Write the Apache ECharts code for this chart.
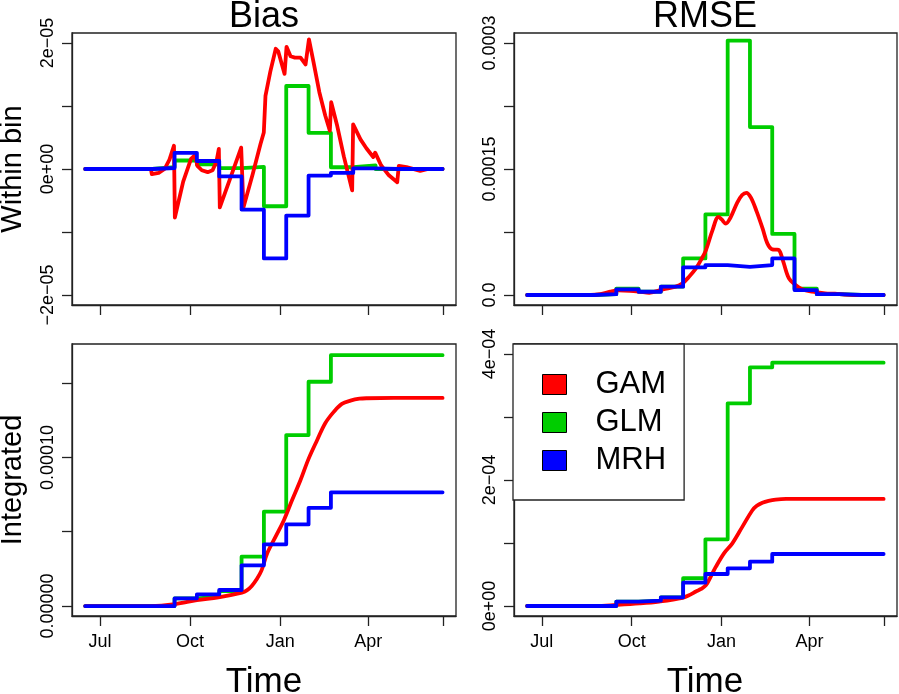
<!DOCTYPE html>
<html>
<head>
<meta charset="utf-8">
<script src="https://cdn.jsdelivr.net/npm/echarts@6/dist/echarts.min.js"></script>
<style>
html,body{margin:0;padding:0;background:#fff;}
#chart{width:899px;height:694px;}
</style>
</head>
<body>
<div id="chart"></div>
<script>
// ---------- DATA ----------
// x in days since 1 July; 16 equal-width bins
const binEdges = [-15, 7.8, 30.6, 53.4, 76.2, 99, 121.8, 144.6, 167.4, 190.2, 213, 235.8, 258.6, 281.4, 304.2, 327, 349.8];
const monthTicks = [0, 92, 184, 274, 350];
const monthLabelVals = [0, 92, 184, 274];
const monthLabels = ['Jul', 'Oct', 'Jan', 'Apr'];

// Bias, within bin
const glmBias = [0, 0, 0, 3e-7, 1.35e-6, 7.2e-7, 1.5e-7, 3.4e-7, -5.92e-6, 1.318e-5, 5.75e-6, 2.8e-7, 5.7e-7, 0, 0, 0];
const mrhBias = [0, 0, 0, 1.6e-7, 2.57e-6, 1.27e-6, -1.18e-6, -6.45e-6, -1.42e-5, -7.4e-6, -1.05e-6, -6.3e-7, 1e-7, 0, 0, 0];
const gamBias = [[-15,0],[52,0],[53,-8e-7],[60,-6e-7],[66,0],[71,1.5e-6],[75.6,3.7e-6],[76.5,-7.7e-6],[85,-2e-6],[93,1.6e-6],[97,2.2e-6],[99.5,5e-7],[104,-2e-7],[110,-5e-7],[115,-2e-7],[119,1.2e-6],[121.4,3.2e-6],[122.4,-6.1e-6],[133,-1.5e-6],[144.2,3.4e-6],[146.5,-6.1e-6],[156,-8e-7],[164,4e-6],[167.3,5.8e-6],[169,1.16e-5],[174,1.55e-5],[179.5,1.91e-5],[182,1.87e-5],[188.5,1.51e-5],[190.5,1.94e-5],[194.6,1.79e-5],[199,1.77e-5],[204.8,1.77e-5],[209.9,1.66e-5],[213.4,2.06e-5],[218,1.7e-5],[224,1.22e-5],[230,8.5e-6],[234.7,6.1e-6],[236.1,1.06e-5],[242,7e-6],[249,2e-6],[257.5,-3.4e-6],[258.5,7.1e-6],[266,4.7e-6],[272,3.3e-6],[279,1.9e-6],[281,2.6e-6],[287,6e-7],[295,-1e-6],[303.5,-2.1e-6],[305.1,5e-7],[313,3e-7],[327,-3e-7],[335,0],[349.8,0]];

// RMSE, within bin
const glmRmse = [0, 0, 0, 1e-6, 7.5e-6, 4e-6, 1e-5, 4.36e-5, 9.6e-5, 3.03e-4, 2.0e-4, 7.27e-5, 7.5e-6, 1e-6, 0, 0];
const mrhRmse = [0, 0, 0, 1e-6, 6.8e-6, 3.9e-6, 9.9e-6, 3.3e-5, 3.57e-5, 3.35e-5, 3.57e-5, 4.36e-5, 5.9e-6, 1e-6, 0, 0];
const gamRmse = [[-15,0],[50,0],[60,1e-6],[70,4e-6],[78,5.5e-6],[90,5e-6],[100,4e-6],[110,2.7e-6],[124,6.8e-6],[137,1e-5],[144,1.4e-5],[150.9,2.2e-5],[157.7,3.17e-5],[163,4.2e-5],[168,5.35e-5],[174.7,7.73e-5],[180.8,9.31e-5],[184,9e-5],[188.3,8.5e-5],[193,9.2e-5],[200,1.1e-4],[205,1.19e-4],[209.3,1.217e-4],[214,1.16e-4],[220,9.9e-5],[226,7.9e-5],[230.8,6.15e-5],[235.9,5.43e-5],[240,5.4e-5],[242.7,5.35e-5],[247,4e-5],[252.9,1.98e-5],[259.7,1.19e-5],[266,7e-6],[276.7,3.9e-6],[290,2e-6],[300,1.5e-6],[310,5e-7],[320,0],[349.8,0]];

// Bias, integrated
const glmIntBias = [0, 0, 0, 0, 5.1e-6, 6.3e-6, 1.0e-5, 3.32e-5, 6.35e-5, 1.15e-4, 1.509e-4, 1.688e-4, 1.688e-4, 1.688e-4, 1.688e-4, 1.688e-4];
const mrhIntBias = [0, 0, 0, 0, 5.16e-6, 7.86e-6, 1.078e-5, 2.74e-5, 4.15e-5, 5.49e-5, 6.61e-5, 7.65e-5, 7.65e-5, 7.65e-5, 7.65e-5, 7.65e-5];
const gamIntBias = [[-15,0],[52,0],[77,1.35e-6],[99,4e-6],[121,5.85e-6],[145,9e-6],[150,1.05e-5],[155,1.35e-5],[160,1.8e-5],[165,2.4e-5],[170.8,3.55e-5],[180,4.75e-5],[187.9,5.79e-5],[196,7.1e-5],[204.8,8.48e-5],[213,9.9e-5],[221.8,1.117e-4],[230,1.23e-4],[238.9,1.308e-4],[247,1.36e-4],[255.8,1.382e-4],[265,1.395e-4],[272.9,1.398e-4],[300,1.4e-4],[349.8,1.4e-4]];

// RMSE, integrated
const glmIntRmse = [0, 0, 0, 0, 6.8e-6, 8.4e-6, 1.38e-5, 4.4e-5, 1.058e-4, 3.217e-4, 3.788e-4, 3.862e-4, 3.862e-4, 3.862e-4, 3.862e-4, 3.862e-4];
const mrhIntRmse = [0, 0, 0, 0, 6.8e-6, 8.4e-6, 1.38e-5, 3.7e-5, 5.08e-5, 5.98e-5, 7.03e-5, 8.25e-5, 8.25e-5, 8.25e-5, 8.25e-5, 8.25e-5];
const gamIntRmse = [[-15,0],[55,0],[76,1.6e-6],[100,4e-6],[120,7e-6],[144,1.3e-5],[152,1.8e-5],[157.7,2.3e-5],[163,2.7e-5],[168,3.3e-5],[173,4.7e-5],[178,6.2e-5],[186.6,8.4e-5],[195,9.95e-5],[205.3,1.26e-4],[215.5,1.52e-4],[220,1.59e-4],[225.7,1.64e-4],[232,1.67e-4],[239.3,1.69e-4],[250,1.7e-4],[263,1.7e-4],[349.8,1.7e-4]];

// y tick marks and labels
const biasTicks = [-2e-5, -1e-5, 0, 1e-5, 2e-5];
const biasLabelVals = [-2e-5, 0, 2e-5];
const biasLabels = ['\u22122e\u221205', '0e+00', '2e\u221205'];
const rmseTicks = [0, 7.5e-5, 1.5e-4, 2.25e-4, 3e-4];
const rmseLabelVals = [0, 1.5e-4, 3e-4];
const rmseLabels = ['0.0', '0.00015', '0.0003'];
const intBiasTicks = [0, 5e-5, 1e-4, 1.5e-4];
const intBiasLabelVals = [0, 1e-4];
const intBiasLabels = ['0.00000', '0.00010'];
const intRmseTicks = [0, 1e-4, 2e-4, 3e-4, 4e-4];
const intRmseLabelVals = [0, 2e-4, 4e-4];
const intRmseLabels = ['0e+00', '2e\u221204', '4e\u221204'];

const seriesNames = ['GAM', 'GLM', 'MRH'];
const seriesColors = ['#FF0000', '#00CD00', '#0000FF'];

// ---------- CHART ----------
const FONT = '"Liberation Sans", Arial, Helvetica, sans-serif';
const AX = '#222';
const chart = echarts.init(document.getElementById('chart'), null, {renderer: 'canvas'});

const grids = [
  {left: 72, top: 33, width: 384, height: 272},
  {left: 514, top: 33, width: 383, height: 272},
  {left: 72, top: 344, width: 384, height: 272},
  {left: 514, top: 344, width: 383, height: 272}
].map(g => Object.assign(g, {show: true, borderColor: AX, borderWidth: 1.3, backgroundColor: 'transparent', containLabel: false}));

function lookup(vals, texts) {
  return function (v) {
    const i = vals.findIndex(t => Math.abs(t - v) < 1e-12);
    return i >= 0 ? texts[i] : '';
  };
}

function xAxis(gi, showLabels) {
  return {
    type: 'value', gridIndex: gi, min: -28.5, max: 363.5,
    splitLine: {show: false},
    axisLine: {show: true, onZero: false, lineStyle: {color: AX, width: 1.3}},
    axisTick: {show: true, length: 10, lineStyle: {color: AX, width: 1.3}, customValues: monthTicks},
    axisLabel: {show: showLabels, customValues: monthLabelVals, formatter: lookup(monthLabelVals, monthLabels),
      fontSize: 18, color: '#000', fontFamily: FONT, margin: 17}
  };
}

function yAxis(gi, min, max, ticks, lvals, ltexts) {
  return {
    type: 'value', gridIndex: gi, min: min, max: max,
    splitLine: {show: false},
    axisLine: {show: true, onZero: false, lineStyle: {color: AX, width: 1.3}},
    axisTick: {show: true, length: 10, lineStyle: {color: AX, width: 1.3}, customValues: ticks},
    axisLabel: {show: true, rotate: 90, customValues: lvals, formatter: lookup(lvals, ltexts),
      fontSize: 18, color: '#000', fontFamily: FONT, margin: 15}
  };
}

function stepData(vals) {
  return binEdges.map((e, i) => [e, vals[Math.min(i, vals.length - 1)]]);
}

function lineSeries(name, color, gi, data, opts) {
  return Object.assign({
    type: 'line', name: name, xAxisIndex: gi, yAxisIndex: gi, data: data,
    showSymbol: false, symbol: 'none', animation: false, silent: true,
    lineStyle: {color: color, width: 3.8, cap: 'round', join: 'round'},
    itemStyle: {color: color}
  }, opts || {});
}

const panels = [
  {gam: gamBias, glm: glmBias, mrh: mrhBias, smooth: false},
  {gam: gamRmse, glm: glmRmse, mrh: mrhRmse, smooth: 0.35},
  {gam: gamIntBias, glm: glmIntBias, mrh: mrhIntBias, smooth: 0.35},
  {gam: gamIntRmse, glm: glmIntRmse, mrh: mrhIntRmse, smooth: 0.35}
];

const series = [];
panels.forEach((p, gi) => {
  series.push(lineSeries(seriesNames[1], seriesColors[1], gi, stepData(p.glm), {step: 'end', z: 2}));
  series.push(lineSeries(seriesNames[0], seriesColors[0], gi, p.gam, {smooth: p.smooth, z: 3}));
  series.push(lineSeries(seriesNames[2], seriesColors[2], gi, stepData(p.mrh), {step: 'end', z: 4}));
});

const textStyle = (txt, x, y, size, rot) => ({
  type: 'text', x: x, y: y, rotation: rot || 0, silent: true,
  style: {text: txt, fontSize: size, fontFamily: FONT, fill: '#000', align: 'center', verticalAlign: 'middle'}
});

const option = {
  animation: false,
  backgroundColor: '#fff',
  textStyle: {fontFamily: FONT},
  grid: grids,
  xAxis: [xAxis(0, false), xAxis(1, false), xAxis(2, true), xAxis(3, true)],
  yAxis: [
    yAxis(0, -2.16e-5, 2.16e-5, biasTicks, biasLabelVals, biasLabels),
    yAxis(1, -1.19e-5, 3.12e-4, rmseTicks, rmseLabelVals, rmseLabels),
    yAxis(2, -6.7e-6, 1.763e-4, intBiasTicks, intBiasLabelVals, intBiasLabels),
    yAxis(3, -1.59e-5, 4.159e-4, intRmseTicks, intRmseLabelVals, intRmseLabels)
  ],
  legend: {
    show: true, selectedMode: false, orient: 'vertical',
    left: 513, top: 344, z: 10,
    data: seriesNames.map(n => ({name: n, icon: 'rect'})),
    itemWidth: 24, itemHeight: 20, itemGap: 7,
    padding: [25, 18, 24, 29],
    backgroundColor: '#fff', borderColor: AX, borderWidth: 1.3, borderRadius: 0,
    itemStyle: {borderColor: '#000', borderWidth: 1},
    lineStyle: {width: 0},
    textStyle: {fontSize: 31, color: '#000', fontFamily: FONT, lineHeight: 20, padding: [0, 0, 0, 24]}
  },
  graphic: [
    textStyle('Bias', 264, 17, 36),
    textStyle('RMSE', 705, 17, 36),
    textStyle('Time', 264, 682, 35),
    textStyle('Time', 705, 682, 35),
    textStyle('Within bin', 13, 169, 29, Math.PI / 2),
    textStyle('Integrated', 13, 480, 29, Math.PI / 2)
  ],
  series: series
};
chart.setOption(option);
</script>
</body>
</html>
